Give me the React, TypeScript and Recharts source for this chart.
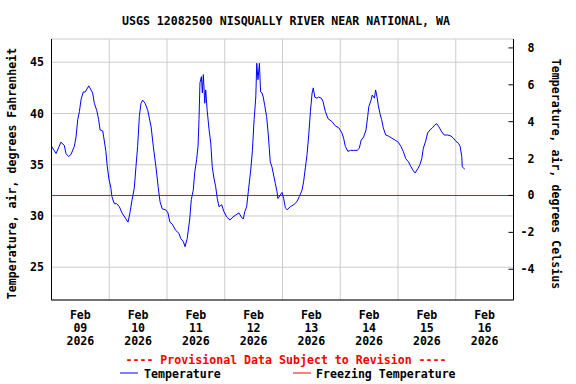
import React from 'react';
import { LineChart, Line, XAxis, YAxis, CartesianGrid, ReferenceLine } from 'recharts';

// hours since Feb 09 2026 00:00
const hours = [
  0, 1.9, 3.2, 3.9, 5.3, 6.0, 7.1, 8.1, 9.5, 10.2,
  10.9, 11.6, 12.3, 13.2, 14.0, 15.5, 16.4, 17.1, 17.8, 18.8,
  19.6, 20.2, 21.3, 21.9, 22.6, 23.1, 23.8, 24.7, 25.1, 26.1,
  27.1, 28.2, 29.3, 30.7, 31.8, 32.6, 33.5, 34.4, 35.1, 35.8,
  36.5, 37.2, 37.9, 38.9, 40.0, 41.4, 42.3, 43.4, 44.3, 45.1,
  46.0, 47.5, 48.4, 49.2, 50.2, 51.6, 53.0, 53.7, 54.8, 55.5,
  56.4, 57.4, 58.1, 58.9, 59.5, 60.3, 60.9, 61.3, 61.7, 62.3,
  62.7, 63.1, 63.7, 64.1, 64.7, 65.5, 66.2, 66.8, 67.5, 68.2,
  68.9, 69.6, 70.7, 71.7, 72.8, 74.2, 75.4, 76.6, 77.9, 78.9,
  79.7, 80.3, 81.1, 81.8, 82.8, 83.5, 84.2, 84.9, 85.3, 85.8,
  86.4, 86.9, 87.5, 88.0, 88.6, 89.4, 90.0, 90.5, 90.9, 91.6,
  92.3, 93.0, 93.7, 94.1, 95.1, 95.8, 96.5, 97.2, 97.9, 99.2,
  100.7, 102.0, 103.0, 104.1, 104.8, 105.5, 106.2, 106.9, 107.6, 108.3,
  108.8, 109.4, 110.3, 111.0, 112.1, 112.8, 113.8, 114.9, 116.6, 117.9,
  119.4, 120.7, 121.4, 122.1, 123.2, 124.2, 125.6, 127.0, 127.9, 128.7,
  129.7, 130.7, 131.4, 131.9, 132.8, 133.3, 134.2, 134.7, 135.3, 135.8,
  136.5, 137.2, 137.9, 138.9, 140.0, 141.4, 142.8, 144.1, 145.2, 146.2,
  147.2, 148.3, 149.4, 150.4, 151.1, 152.2, 153.1, 153.9, 154.5, 155.5,
  156.3, 157.3, 158.3, 159.4, 160.1, 161.0, 162.2, 163.2, 164.7, 166.0,
  167.0, 168.0, 169.1, 169.8, 170.5, 170.7, 171.6, 171.8,
];

// air temperature, degrees Fahrenheit
const tempF = [
  36.8, 36.1, 36.8, 37.2, 36.9, 36.1, 35.8, 36.0, 36.8, 37.7,
  39.4, 40.2, 41.4, 42.1, 42.1, 42.7, 42.3, 42.0, 41.0, 40.3,
  39.4, 38.4, 38.3, 37.4, 36.3, 35.0, 33.7, 32.7, 31.9, 31.2,
  31.2, 30.9, 30.3, 29.8, 29.4, 30.3, 31.6, 32.7, 34.8, 36.8,
  39.7, 41.0, 41.3, 41.0, 40.3, 38.7, 36.8, 34.8, 32.9, 31.4,
  30.7, 30.6, 30.3, 29.4, 29.2, 28.6, 28.3, 27.8, 27.5, 27.0,
  27.8, 29.6, 31.6, 32.5, 34.2, 35.5, 36.8, 39.4, 43.0, 43.6,
  42.0, 43.8, 41.0, 42.3, 40.3, 38.4, 37.1, 34.8, 33.7, 32.9,
  31.7, 30.9, 31.1, 30.4, 29.9, 29.6, 29.9, 30.1, 30.3, 29.9,
  29.7, 30.4, 30.9, 32.4, 34.5, 36.4, 39.4, 41.6, 44.9, 43.3,
  44.9, 42.1, 42.0, 41.6, 40.8, 39.7, 38.2, 36.6, 35.3, 34.8,
  34.0, 33.2, 32.4, 31.7, 32.05, 32.3, 31.7, 30.8, 30.6, 30.9,
  31.1, 31.4, 31.9, 32.5, 33.4, 34.7, 36.0, 37.9, 40.2, 42.0,
  42.5, 41.6, 41.5, 41.6, 41.5, 41.2, 40.2, 39.5, 39.2, 38.8,
  38.6, 38.1, 37.6, 36.8, 36.3, 36.4, 36.4, 36.4, 36.6, 37.4,
  37.7, 38.4, 39.7, 40.7, 41.3, 41.8, 41.5, 42.3, 41.6, 40.8,
  40.0, 39.4, 38.6, 37.9, 37.8, 37.6, 37.4, 37.2, 36.8, 36.3,
  35.6, 35.3, 34.8, 34.4, 34.2, 34.6, 35.0, 35.6, 36.6, 37.3,
  38.1, 38.4, 38.6, 38.9, 39.0, 38.7, 38.2, 37.9, 37.9, 37.8,
  37.6, 37.3, 37.1, 36.8, 35.8, 34.8, 34.6, 34.6,
];

const month = 'Feb';
const year = '2026';
const days = ['09', '10', '11', '12', '13', '14', '15', '16'];
const fTicks = [25, 30, 35, 40, 45];
const cTicks = [-4, -2, 0, 2, 4, 6, 8];
const freezingF = 32;
const fDomain = [21.8, 47.27];

const data = hours.map((h, i) => ({ h, t: tempF[i] }));
const cDomain = fDomain.map((f) => (f - 32) / 1.8);
const noonTicks = days.map((_, i) => i * 24 + 12);
const midnightTicks = days.slice(1).map((_, i) => (i + 1) * 24);
const xDomain = [0, days.length * 24];

const FONT = '"DejaVu Sans Mono", monospace';
const FS = 11.6;

function DayTick(props: any) {
  const { x, y, payload } = props;
  const i = noonTicks.indexOf(payload.value);
  return (
    <text x={x} y={y} textAnchor="middle" fontFamily={FONT} fontWeight="bold" fontSize={FS} fill="#000">
      <tspan x={x} dy={18.5}>{month}</tspan>
      <tspan x={x} dy={13.2}>{days[i]}</tspan>
      <tspan x={x} dy={13.2}>{year}</tspan>
    </text>
  );
}

function CelsiusTick(props: any) {
  const { x, y, payload } = props;
  return (
    <g>
      <line x1={x - 5} y1={y} x2={x} y2={y} stroke="#000" />
      <text x={x + 21} y={y + 4} textAnchor="end" fontFamily={FONT} fontWeight="bold" fontSize={FS} fill="#000">
        {payload.value}
      </text>
    </g>
  );
}

export default function App() {
  return (
    <div style={{ position: 'absolute', left: 0, top: 0, width: 576, height: 384, background: '#fff' }}>
      <LineChart width={576} height={384} data={data} margin={{ top: 39, right: 0, bottom: 0, left: 0 }}>
        <XAxis xAxisId="grid" type="number" dataKey="h" domain={xDomain} ticks={midnightTicks} hide />
        <CartesianGrid xAxisId="grid" yAxisId="f" stroke="#cccccc" />
        <XAxis
          dataKey="h"
          type="number"
          domain={xDomain}
          ticks={noonTicks}
          height={84}
          tickSize={0}
          tickMargin={0}
          tickLine={false}
          axisLine={{ stroke: '#000' }}
          tick={<DayTick />}
          interval={0}
        />
        <XAxis
          xAxisId="top"
          orientation="top"
          type="number"
          domain={xDomain}
          height={0}
          tick={false}
          tickLine={false}
          axisLine={{ stroke: '#000' }}
        />
        <YAxis
          yAxisId="f"
          type="number"
          domain={fDomain}
          ticks={fTicks}
          width={51.5}
          tickSize={0}
          tickMargin={7.5}
          tickLine={false}
          axisLine={{ stroke: '#000' }}
          tick={{ fontFamily: FONT, fontWeight: 'bold', fontSize: FS, fill: '#000' }}
          allowDataOverflow
        />
        <YAxis
          yAxisId="c"
          orientation="right"
          type="number"
          domain={cDomain}
          ticks={cTicks}
          width={62.5}
          tickSize={0}
          tickMargin={0}
          tickLine={false}
          axisLine={{ stroke: '#000' }}
          tick={<CelsiusTick />}
          allowDataOverflow
        />
        <ReferenceLine yAxisId="f" y={freezingF} stroke="#ff0000" strokeWidth={1} />
        <Line
          yAxisId="f"
          dataKey="t"
          type="linear"
          stroke="#0000ff"
          strokeWidth={1}
          dot={false}
          isAnimationActive={false}
        />
      </LineChart>
      <svg width={576} height={384} style={{ position: 'absolute', left: 0, top: 0, pointerEvents: 'none' }}>
        <g fontFamily={FONT} fontWeight="bold" fontSize={FS} fill="#000">
          <text x={286} y={25} textAnchor="middle">USGS 12082500 NISQUALLY RIVER NEAR NATIONAL, WA</text>
          <text transform="translate(15.5,173.5) rotate(-90)" textAnchor="middle">
            Temperature, air, degrees Fahrenheit
          </text>
          <text transform="translate(551.5,174) rotate(90)" textAnchor="middle">
            Temperature, air, degrees Celsius
          </text>
          <text x={286} y={363.5} textAnchor="middle" fill="#ff0000">
            ---- Provisional Data Subject to Revision ----
          </text>
          <line x1={120} y1={373} x2={138} y2={373} stroke="#0000ff" />
          <text x={144} y={377.5}>Temperature</text>
          <line x1={293} y1={373} x2={311} y2={373} stroke="#ff0000" />
          <text x={316} y={377.5}>Freezing Temperature</text>
        </g>
      </svg>
    </div>
  );
}
